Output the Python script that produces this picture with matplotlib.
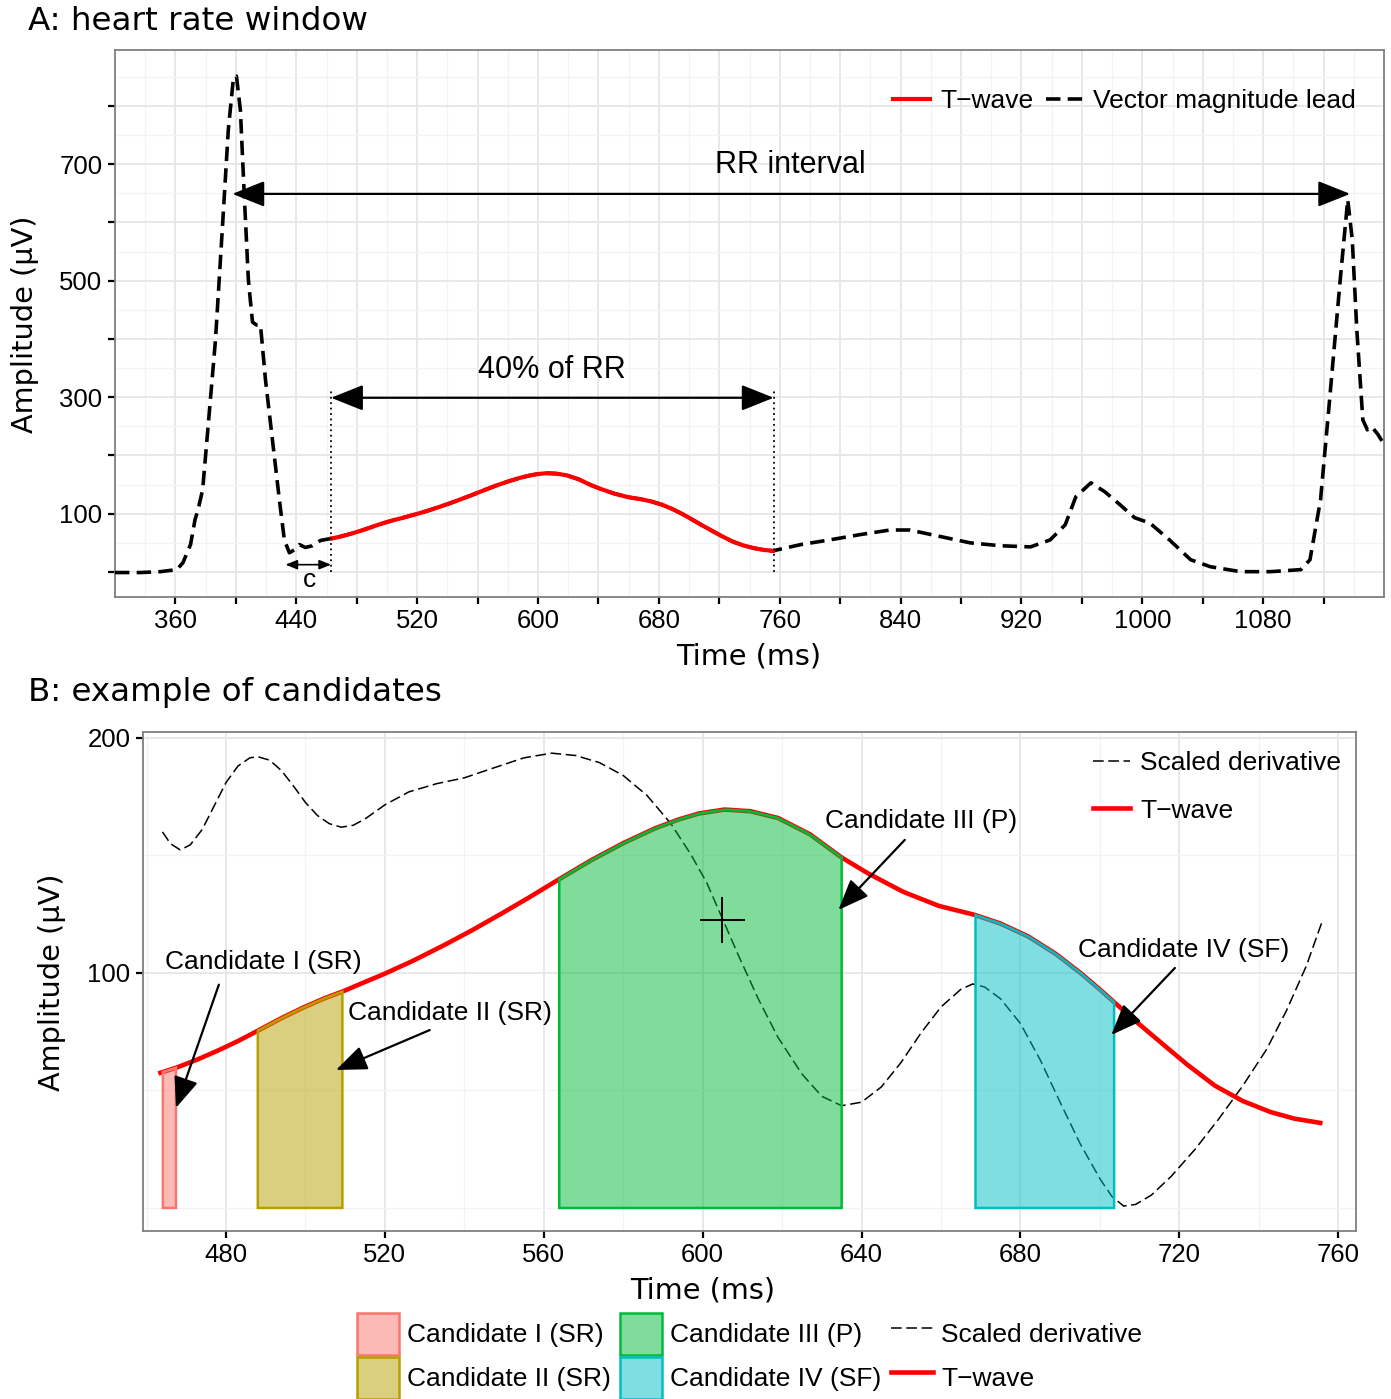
import matplotlib
matplotlib.use("Agg")
import matplotlib.pyplot as plt
import numpy as np
from matplotlib.patches import Patch, ArrowStyle
from matplotlib.lines import Line2D

plt.rcParams['font.family'] = ['Liberation Sans', 'DejaVu Sans']

# ---- data: panel A, vector magnitude lead (before / after the T-wave) ----
pre_t = [320, 337, 350, 361, 365, 370, 373, 375, 378, 382, 386.5, 391, 395, 398.4,
         400.4, 403, 405.7, 408.3, 411, 413.6, 416.3, 419.6, 424.2, 428.8, 432.1,
         435.4, 438.8, 442.1, 446, 450.7, 456, 463]
pre_v = [-1, -1, 0.5, 4, 16, 47, 90, 107, 141, 261, 398, 587, 759, 848,
         851, 793, 639, 501, 429, 424, 424, 330, 227, 124, 55,
         33, 38, 47, 42, 45, 54, 57.5]
post_t = [755, 774, 793, 813, 833, 846, 866, 886, 906, 926, 939, 949, 956, 966, 975,
          985, 995, 1005, 1018, 1032, 1045, 1065, 1085, 1105, 1111, 1118, 1124, 1131,
          1136, 1139, 1142, 1146, 1149, 1152, 1156, 1160]
post_v = [36, 47, 55, 64, 72, 72, 61, 50, 45, 43, 55, 81, 129, 153, 138,
          116, 93, 84, 55, 21, 9, 0.5, 0.5, 4, 21, 124, 296, 501,
          639, 570, 416, 261, 244, 249, 236, 219]

# ---- T-wave (shared by both panels) ----
tw_t = [463.5, 468, 473, 478, 483, 488, 494, 499.5, 504.5, 509.5, 514.5, 520, 527,
        535, 542, 549, 556.5, 564, 572, 580, 588, 594, 599, 605.5, 612, 619, 627,
        635, 641.5, 650.5, 659.5, 668.5, 675, 682, 689, 695.5, 700, 703.5, 709,
        716, 722, 729, 736, 743, 749, 755.5]
tw_v = [57.5, 60, 63.3, 67, 71, 75.4, 80.8, 85.3, 89, 92.2, 95.8, 99.7, 105.1,
        111.9, 118.2, 124.9, 132.3, 140, 148, 155.2, 161.5, 165.3, 167.8, 169.5, 168.8, 165.9, 159,
        149.1, 142.5, 134.5, 128.5, 124.7, 121, 115.5, 108, 99.5, 93, 87.7, 79.5,
        69.5, 61, 52, 45.5, 40.8, 38, 36.2]

# ---- panel B: scaled derivative ----
der_t = [464, 466, 468.5, 471, 474, 477, 480, 483, 486, 488, 491, 494, 497, 500, 503,
         506, 509, 512, 515, 520, 526, 533, 540, 547, 555, 562, 568, 574, 580, 586,
         592, 597, 601, 605, 609, 614, 619, 625, 630, 635, 640, 645, 650, 655, 660,
         665, 668, 671, 675, 680, 685, 690, 695, 700, 703, 706, 709, 713, 718, 724,
         730, 736, 742, 747, 752, 756]
der_v = [160, 155, 152.3, 154.5, 161, 171, 181, 188, 191.5, 192, 190.5, 186, 179.5, 172.5, 167,
         163.5, 162, 162.8, 165.5, 171.5, 177, 180.5, 183, 187, 191.5, 193.5, 192.5, 189.5, 184, 175.5,
         163.5, 150.5, 138.5, 123, 107.5, 89, 72.5, 57, 47.5, 43.5, 45, 51.5, 62, 74.5, 85.5,
         93, 95.3, 94, 89, 78.5, 63, 45, 27.5, 12.5, 5, 0.8, 1.5, 5.5, 13.5, 25,
         38, 52, 67.5, 84, 103, 122]

# ---- candidates ----
cand_labels = ["Candidate I (SR)", "Candidate II (SR)", "Candidate III (P)", "Candidate IV (SF)"]
cand_start = [464.1, 488.0, 563.9, 668.7]
cand_end = [467.4, 509.3, 635.0, 703.6]
cand_colors = ["#F8766D", "#B79F00", "#00BA38", "#00BFC4"]

# annotation positions (text, arrow start, arrow end)
cand_text_xy = [(489.5, 104.5), (536.5, 83), (655, 164.5), (721, 109.8)]
cand_arrow_from = [(478.2, 95), (531.3, 75.7), (650.9, 156.6), (718.9, 102.1)]
cand_arrow_to = [(467.4, 42.6), (507.7, 58.7), (634.2, 126.8), (702.9, 73.6)]

W, H = 1391, 1399
fig = plt.figure(figsize=(W / 100, H / 100), dpi=100)


def ax_rect(l, t, r, b):
    return [l / W, 1 - b / H, (r - l) / W, (b - t) / H]


def style_axes(ax):
    for s in ax.spines.values():
        s.set_color("#7F7F7F")
        s.set_linewidth(1.3)
    ax.grid(which="major", color="#E6E6E6", lw=1.3, zorder=0)
    ax.grid(which="minor", color="#F3F3F3", lw=0.9, zorder=0)
    ax.set_axisbelow(True)
    ax.tick_params(which="major", length=5, width=1.6, color="black",
                   labelsize=18.5, pad=4, labelcolor="black")
    ax.tick_params(which="minor", length=0)


head = ArrowStyle("-|>", head_length=0.95, head_width=0.38)
dhead = ArrowStyle("<|-|>", head_length=1.0, head_width=0.4)

# ================= panel A =================
axA = fig.add_axes(ax_rect(115, 50, 1384, 597))
ecg_t = pre_t + tw_t + post_t
ecg_v = pre_v + tw_v + post_v
axA.plot(ecg_t, ecg_v, color="black", lw=2.6, ls=(0, (4, 2)), zorder=3)
axA.plot(tw_t, tw_v, color="#FF0000", lw=3.0, zorder=4)

axA.set_xlim(320, 1160)
axA.set_ylim(-43, 896)
xt = list(range(360, 1160, 40))
axA.set_xticks(xt)
axA.set_xticklabels([str(v) if (v - 360) % 80 == 0 else "" for v in xt])
axA.set_xticks(list(range(340, 1161, 40)), minor=True)
yt = list(range(0, 900, 100))
axA.set_yticks(yt)
axA.set_yticklabels([str(v) if v % 200 == 100 else "" for v in yt])
axA.set_yticks(list(range(50, 900, 100)), minor=True)
style_axes(axA)

# RR interval
axA.annotate("", xy=(1137.6, 649), xytext=(397.7, 649),
             arrowprops=dict(arrowstyle=dhead, mutation_scale=20, lw=1.6,
                             color="black", shrinkA=0, shrinkB=0), zorder=5)
axA.text(767, 699, "RR interval", ha="center", va="center", fontsize=22)
# 40% of RR
axA.annotate("", xy=(756, 299), xytext=(463, 299),
             arrowprops=dict(arrowstyle=dhead, mutation_scale=20, lw=1.6,
                             color="black", shrinkA=0, shrinkB=0), zorder=5)
axA.text(609, 347, "40% of RR", ha="center", va="center", fontsize=22)
for xv in (463, 756):
    axA.plot([xv, xv], [0, 316], color="black", lw=1.3, ls=(0, (1, 2)), zorder=5)
# c
axA.annotate("", xy=(463, 12.5), xytext=(432.8, 12.5),
             arrowprops=dict(arrowstyle="<|-|>,head_length=0.5,head_width=0.2",
                             mutation_scale=14, lw=1.2, color="black",
                             shrinkA=0, shrinkB=0), zorder=5)
axA.text(449, -14, "c", ha="center", va="center", fontsize=19)

axA.legend([Line2D([], [], color="#FF0000", lw=3.0),
            Line2D([], [], color="black", lw=2.6, ls=(0, (4, 2)))],
           ["T\u2212wave", "Vector magnitude lead"],
           loc="center right", bbox_to_anchor=(0.978, 0.906), ncol=2,
           frameon=False, fontsize=19, handlelength=1.4, handletextpad=0.4,
           columnspacing=0.45, borderpad=0, borderaxespad=0)

# ================= panel B =================
axB = fig.add_axes(ax_rect(143, 732, 1356, 1231))
axB.plot(der_t, der_v, color="black", lw=1.1, ls=(0, (7, 3)), zorder=3)
axB.plot(tw_t, tw_v, color="#FF0000", lw=3.3, zorder=4)

for lab, s, e, c in zip(cand_labels, cand_start, cand_end, cand_colors):
    xs = np.linspace(s, e, 40)
    ys = np.interp(xs, tw_t, tw_v)
    px = np.concatenate([[s], xs, [e]])
    py = np.concatenate([[0], ys, [0]])
    axB.fill(px, py, facecolor=c, alpha=0.5, edgecolor="none", zorder=5)
    axB.fill(px, py, facecolor="none", edgecolor=c, lw=1.8, zorder=6)

# crosshair at derivative / peak
axB.plot([599.5, 610.5], [122.6, 122.6], color="black", lw=1.4, zorder=7)
axB.plot([605, 605], [113.2, 132], color="black", lw=1.4, zorder=7)

for lab, txy, a0, a1 in zip(cand_labels, cand_text_xy, cand_arrow_from, cand_arrow_to):
    axB.text(txy[0], txy[1], lab, ha="center", va="center", fontsize=19, zorder=8)
    axB.annotate("", xy=a1, xytext=a0,
                 arrowprops=dict(arrowstyle=head, mutation_scale=20, lw=1.6,
                                 color="black", shrinkA=0, shrinkB=0), zorder=8)

axB.set_xlim(459.1, 764.5)
axB.set_ylim(-9.8, 202.5)
axB.set_xticks(list(range(480, 761, 40)))
axB.set_xticks(list(range(460, 761, 40)), minor=True)
axB.set_yticks([100, 200])
axB.set_yticks([0, 50, 150], minor=True)
style_axes(axB)

axB.legend([Line2D([], [], color="black", lw=1.1, ls=(0, (7, 3))),
            Line2D([], [], color="#FF0000", lw=3.3)],
           ["Scaled derivative", "T\u2212wave"],
           loc="upper left", bbox_to_anchor=(0.783, 0.962), frameon=False,
           fontsize=19, handlelength=1.4, handletextpad=0.4, labelspacing=0.9,
           borderpad=0, borderaxespad=0)

# bottom legend
hB = [Patch(facecolor=matplotlib.colors.to_rgba(c, 0.5), edgecolor=c, lw=1.8)
      for c in cand_colors]
hB += [Line2D([], [], color="black", lw=1.1, ls=(0, (7, 3))),
       Line2D([], [], color="#FF0000", lw=3.3)]
fig.legend(hB, cand_labels + ["Scaled derivative", "T\u2212wave"],
           loc="center", bbox_to_anchor=(749.5 / W, 1 - 1356 / H), ncol=3,
           frameon=False, fontsize=19, handlelength=1.6, handleheight=2.05,
           handletextpad=0.3, columnspacing=0.35, labelspacing=0.08,
           borderpad=0, borderaxespad=0)

# titles and axis labels
fig.text(28 / W, 1 - 21 / H, "A: heart rate window", ha="left", va="center",
         fontsize=23.4, family="DejaVu Sans")
fig.text(28 / W, 1 - 693 / H, "B: example of candidates", ha="left", va="center",
         fontsize=23.4, family="DejaVu Sans")
fig.text(749 / W, 1 - 656 / H, "Time (ms)", ha="center", va="center",
         fontsize=20.7, family="DejaVu Sans")
fig.text(703 / W, 1 - 1290 / H, "Time (ms)", ha="center", va="center",
         fontsize=20.7, family="DejaVu Sans")
fig.text(25 / W, 1 - 324 / H, "Amplitude (\u03bcV)", ha="center", va="center",
         rotation=90, fontsize=20.7, family="DejaVu Sans")
fig.text(52 / W, 1 - 982 / H, "Amplitude (\u03bcV)", ha="center", va="center",
         rotation=90, fontsize=20.7, family="DejaVu Sans")

fig.savefig("out.png", dpi=100)
